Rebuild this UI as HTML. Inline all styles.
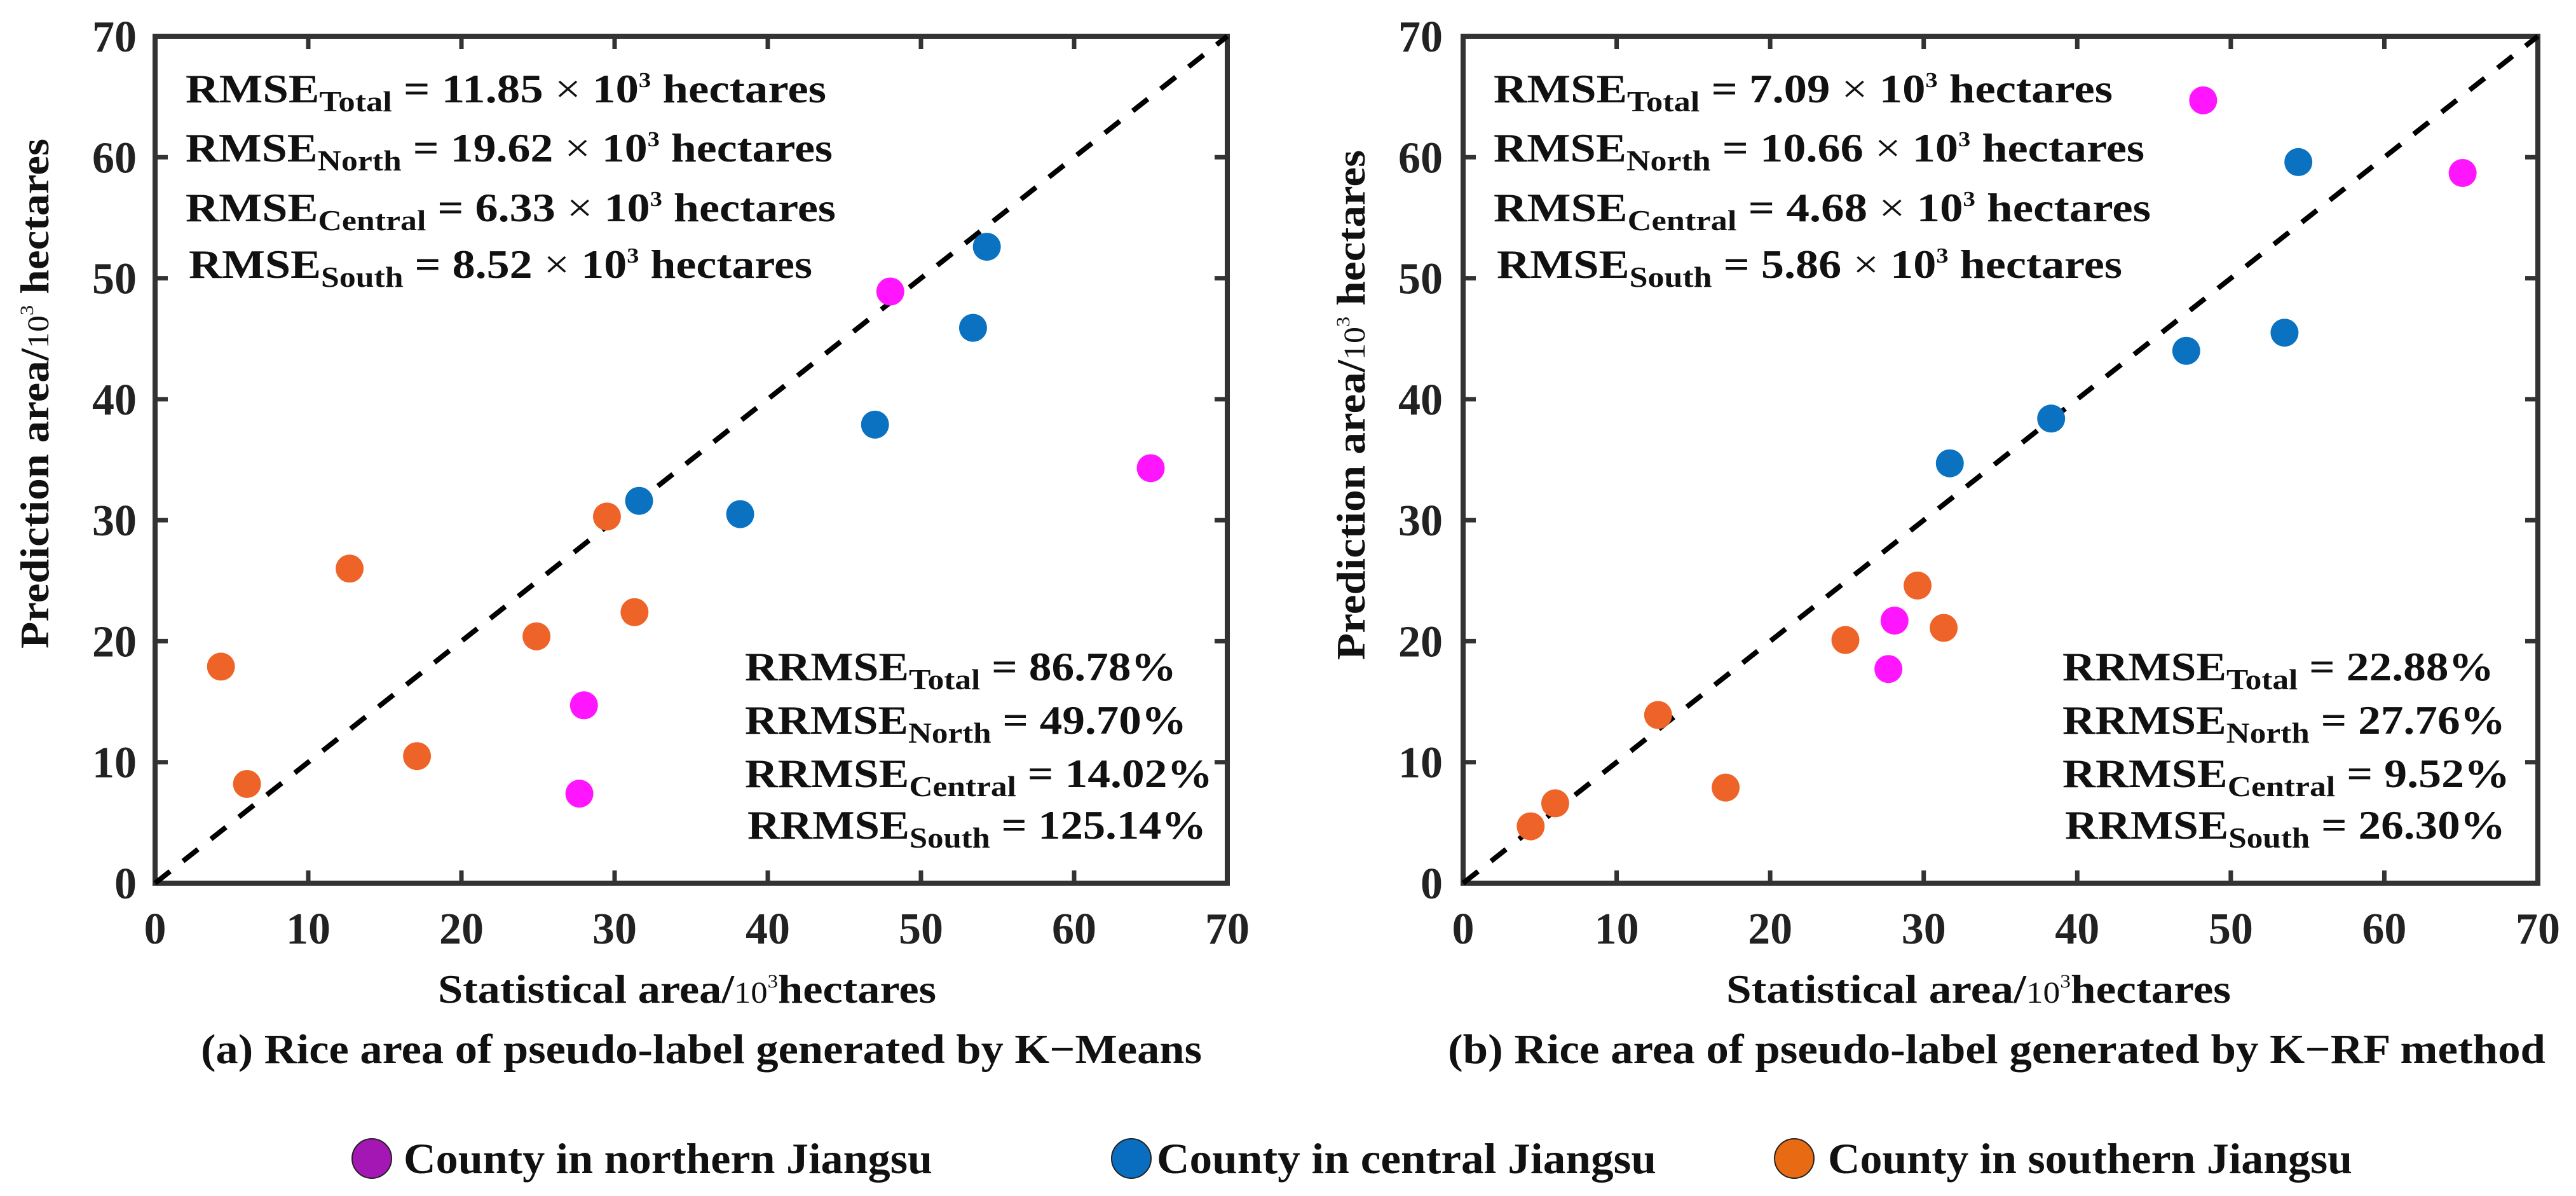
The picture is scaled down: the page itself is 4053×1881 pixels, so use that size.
<!DOCTYPE html>
<html><head><meta charset="utf-8"><style>
html,body{margin:0;padding:0;background:#fff;}
svg{display:block;}
svg text{font-family:"Liberation Serif","Times New Roman",serif;font-weight:bold;}
</style></head><body>
<svg id="fig" width="4053" height="1881" viewBox="0 0 4053 1881" xmlns="http://www.w3.org/2000/svg"></svg>
<script>
// ---- data ----
const xTicks = [0,10,20,30,40,50,60,70];
const yTicks = [0,10,20,30,40,50,60,70];
const aNorthX = [48.0,65.0,28.0,27.7];
const aNorthY = [48.9,34.3,14.7,7.4];
const aCentralX = [54.3,53.4,47.0,38.2,31.6];
const aCentralY = [52.6,45.9,37.9,30.5,31.6];
const aSouthX = [29.5,12.7,4.3,24.9,31.3,17.1,6.0];
const aSouthY = [30.3,26.0,17.9,20.4,22.4,10.5,8.2];
const bNorthX = [48.2,65.1,28.1,27.7];
const bNorthY = [64.7,58.7,21.7,17.7];
const bCentralX = [54.4,53.5,47.1,38.3,31.7];
const bCentralY = [59.6,45.5,44.0,38.4,34.7];
const bSouthX = [29.6,31.3,24.9,12.7,17.1,6.0,4.4];
const bSouthY = [24.6,21.1,20.1,13.9,7.9,6.6,4.7];
const aRmse = ["Total","11.85","North","19.62","Central","6.33","South","8.52"];
const aRrmse = ["Total","86.78%","North","49.70%","Central","14.02%","South","125.14%"];
const bRmse = ["Total","7.09","North","10.66","Central","4.68","South","5.86"];
const bRrmse = ["Total","22.88%","North","27.76%","Central","9.52%","South","26.30%"];

const NS="http://www.w3.org/2000/svg";
const svg=document.getElementById('fig');
function mk(tag,attrs,parent){const e=document.createElementNS(NS,tag);for(const k in attrs)e.setAttribute(k,attrs[k]);(parent||svg).appendChild(e);return e;}

function drawPanel(id,x0,x1,y0,y1,nx,ny,cx,cy,sx,sy,rmse,rrmse,rmseEnds,rrmseStart,rrmseEnds,ytickRight,ytitleX,caption,capX0,capX1,xtitleX0,xtitleX1){
  const g=mk('g',{});
  
  
  const X=v=>x0+(x1-x0)*v/70;
  const Y=v=>y1-(y1-y0)*v/70;
  xTicks.forEach(t=>{
    const tk=mk('path',{d:`M${X(t)},${y1}v-20M${X(t)},${y0}v20`,stroke:'#333','stroke-width':7},g);
    
    
    const lb=mk('text',{x:X(t),y:1484,'font-size':70,'text-anchor':'middle',fill:'#222'},g);
    lb.textContent=t;
    
    
  });
  yTicks.forEach(t=>{
    const tk=mk('path',{d:`M${x0},${Y(t)}h20M${x1},${Y(t)}h-20`,stroke:'#333','stroke-width':7},g);
    
    
    const lb=mk('text',{x:ytickRight,y:Y(t)+24,'font-size':70,'text-anchor':'end',fill:'#222'},g);
    lb.textContent=t;
    
    
  });
  const box=mk('rect',{x:x0,y:y0,width:x1-x0,height:y1-y0,fill:'none',stroke:'#333','stroke-width':8},g);
  
  
  const diag=mk('line',{x1:X(0),y1:Y(0),x2:X(70),y2:Y(70),stroke:'#000','stroke-width':8,'stroke-dasharray':'30 26'},g);
  
  
  function pts(xs,ys,col,name){
    xs.forEach((v,i)=>{
      const c=mk('circle',{cx:X(v),cy:Y(ys[i]),r:22,fill:col},g);
      
      
    });
  }
  pts(sx,sy,'#EE6428','point-south');
  pts(cx,cy,'#0A72C0','point-central');
  pts(nx,ny,'#FF16FF','point-north');
  const rb=[161,254,348,437];
  for(let i=0;i<4;i++){
    const sx0 = (i===3?5:0)+x0+48;
    const t=mk('text',{x:sx0,y:rb[i],'font-size':64,fill:'#111',textLength:rmseEnds[i]-sx0,lengthAdjust:'spacingAndGlyphs'},g);
    
    
    t.innerHTML=`RMSE<tspan font-size="46" dy="14">${rmse[2*i]}</tspan><tspan dy="-14"> = ${rmse[2*i+1]} </tspan><tspan font-weight="normal">×</tspan><tspan> 10</tspan><tspan font-size="34" dy="-24">3</tspan><tspan dy="24"> hectares</tspan>`;
  }
  const qb=[1070,1154,1238,1319];
  for(let i=0;i<4;i++){
    const sx0=rrmseStart+(i===3?4:0);
    const t=mk('text',{x:sx0,y:qb[i],'font-size':64,fill:'#111',textLength:rrmseEnds[i]-sx0,lengthAdjust:'spacingAndGlyphs'},g);
    
    
    t.innerHTML=`RRMSE<tspan font-size="46" dy="14">${rrmse[2*i]}</tspan><tspan dy="-14"> = ${rrmse[2*i+1]}</tspan>`;
  }
  const xt=mk('text',{x:xtitleX0,y:1577,'font-size':64,fill:'#111',textLength:xtitleX1-xtitleX0,lengthAdjust:'spacingAndGlyphs'},g);
  
  
  xt.innerHTML=`Statistical area/<tspan font-weight="normal" font-size="48">10</tspan><tspan font-weight="normal" font-size="30" dy="-24">3</tspan><tspan dy="24">hectares</tspan>`;
  const yt=mk('text',{x:0,y:0,'font-size':64,fill:'#111',transform:`translate(${ytitleX+22},${1020+(id==='b'?18:0)}) rotate(-90)`,textLength:802,lengthAdjust:'spacingAndGlyphs'},g);
  
  
  yt.innerHTML=`Prediction area/<tspan font-weight="normal" font-size="48">10</tspan><tspan font-weight="normal" font-size="30" dy="-24">3</tspan><tspan dy="24"> hectares</tspan>`;
  const cp=mk('text',{x:capX0,y:1672,'font-size':66,fill:'#111',textLength:capX1-capX0,lengthAdjust:'spacingAndGlyphs'},g);
  
  
  cp.textContent=caption;
}

drawPanel('a',244,1931,57,1389,aNorthX,aNorthY,aCentralX,aCentralY,aSouthX,aSouthY,aRmse,aRrmse,
  [1300,1310,1315,1278],1172,[1851,1867,1908,1898],215,54,
  '(a) Rice area of pseudo-label generated by K\u2212Means',316,1891,689,1473);
drawPanel('b',2302,3993,57,1389,bNorthX,bNorthY,bCentralX,bCentralY,bSouthX,bSouthY,bRmse,bRrmse,
  [3324,3374,3384,3339],3245,[3924,3942,3949,3942],2270,2125,
  '(b) Rice area of pseudo-label generated by K\u2212RF method',2278,4005,2716,3510);

const legItems=[['County in northern Jiangsu','#A417B4',585,635,1467,'legend-north'],
                ['County in central Jiangsu','#0A6EC0',1780,1820,2606,'legend-central'],
                ['County in southern Jiangsu','#E86A12',2823,2876,3701,'legend-south']];
legItems.forEach(it=>{
  const c=mk('circle',{cx:it[2],cy:1822,r:31,fill:it[1],stroke:'#222','stroke-width':2});
  
  
  const t=mk('text',{x:it[3],y:1845,'font-size':68,fill:'#111',textLength:it[4]-it[3],lengthAdjust:'spacingAndGlyphs'});
  
  
  t.textContent=it[0];
});
</script>
</body></html>
